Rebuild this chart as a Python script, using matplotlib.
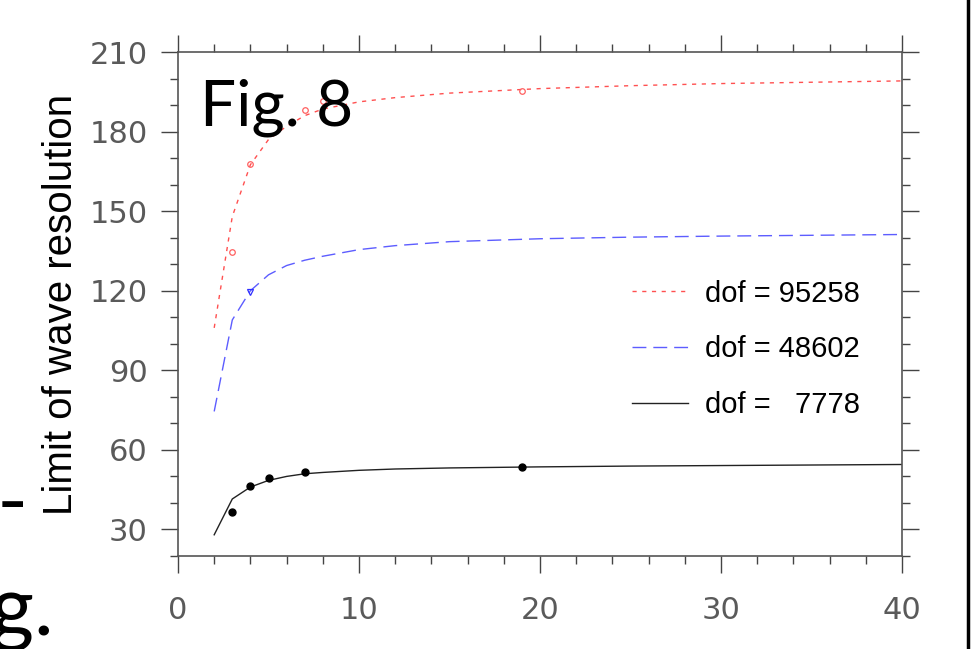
import matplotlib
matplotlib.use("Agg")
import matplotlib.pyplot as plt
from matplotlib.lines import Line2D
from matplotlib.ticker import MultipleLocator

# curves
x_curve = [2, 3, 4, 5, 6, 7, 8, 10, 12, 15, 20, 25, 30, 35, 40]
red_curve = [106, 148, 167.5, 177, 182, 186, 188.5, 191.2, 192.8, 194.5, 196.2, 197.3, 198.1, 198.6, 199.1]
blue_curve = [74.5, 109, 120, 126, 129.5, 131.5, 133, 135.5, 137, 138.5, 139.6, 140.2, 140.6, 140.9, 141.2]
black_curve = [28, 41.5, 46, 48.5, 50, 51, 51.5, 52.3, 52.8, 53.2, 53.6, 53.9, 54.1, 54.3, 54.5]

# sample points
red_x = [3, 4, 7, 8, 19]
red_y = [134.5, 167.6, 188.2, 191.4, 195.2]
blue_x = [4]
blue_y = [119.6]
black_x = [3, 4, 5, 7, 19]
black_y = [36.5, 46.5, 49.5, 51.5, 53.6]

labels = ["dof = 95258", "dof = 48602", "dof =   7778"]

W, H = 977, 649
fig = plt.figure(figsize=(W / 100, H / 100), dpi=100)
ax = fig.add_axes([178 / W, 1 - 556 / H, (902 - 178) / W, (556 - 52) / H])

l1, = ax.plot(x_curve, red_curve, color="#ff5050", lw=1.0, dashes=(3, 4))
l2, = ax.plot(x_curve, blue_curve, color="#4040ff", lw=1.0, dashes=(10, 5), alpha=0.85)
l3, = ax.plot(x_curve, black_curve, color="#222222", lw=1.0)

ax.plot(red_x, red_y, "o", ms=4, mfc="none", mec="#ff6060", mew=0.9)
ax.plot(blue_x, blue_y, "v", ms=5, mfc="none", mec="#3030ff", mew=0.9)
ax.plot(black_x, black_y, "o", ms=5, color="black")

ax.set_xlim(0, 40)
ax.set_ylim(20, 210)
ax.xaxis.set_major_locator(MultipleLocator(10))
ax.xaxis.set_minor_locator(MultipleLocator(2))
ax.yaxis.set_minor_locator(MultipleLocator(10))
ax.set_yticks([30, 60, 90, 120, 150, 180, 210])
ax.tick_params(which="both", direction="out", top=True, right=True, color="#444444", width=1.0)
ax.tick_params(which="major", length=12)
ax.tick_params(which="minor", length=6)
ax.tick_params(labelsize=22, labelcolor="#5a5a5a")
ax.tick_params(axis="x", pad=17)
ax.tick_params(axis="y", pad=10)
for s in ax.spines.values():
    s.set_color("#555555")
    s.set_linewidth(1.2)

ax.set_ylabel("Limit of wave resolution", fontsize=29, family="Liberation Sans")
ax.yaxis.set_label_coords(-0.136, 0.5)

ax.legend([l1, l2, l3], labels, loc="center left", bbox_to_anchor=(0.591, 0.41),
          frameon=False, handlelength=1.9, handletextpad=0.6,
          labelspacing=0.95, prop={"family": "Liberation Sans", "size": 21})

ax.text(0.03, 0.89, "Fig. 8", transform=ax.transAxes, fontsize=46, family="Lato",
        color="black", va="center", ha="left")

# clipped slide text on the left edge
fig.text(29 / W, 1 - 530 / H, "e-", fontsize=60, family="Lato",
         ha="right", va="baseline")
fig.text(54 / W, 1 - 635 / H, "ng.", fontsize=60, family="Lato",
         ha="right", va="baseline")

fig.add_artist(Line2D([968 / W, 968 / W], [0, 1], color="black", lw=2.5,
                      transform=fig.transFigure))

fig.savefig("out.png", dpi=100)
